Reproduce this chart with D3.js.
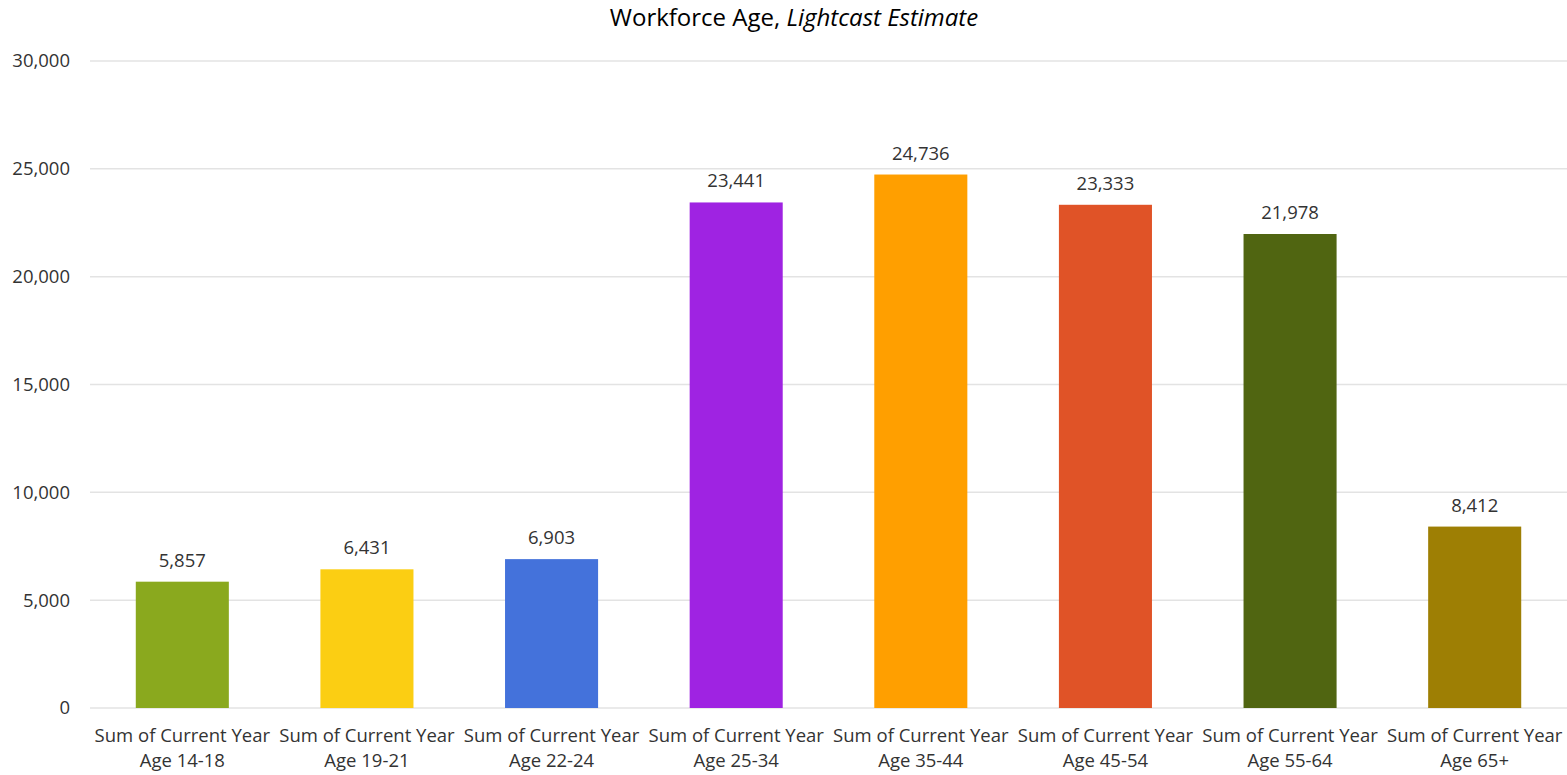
<!DOCTYPE html>
<html><head><meta charset="utf-8">
<script src="https://cdn.jsdelivr.net/npm/d3@7"></script>
<style>body{margin:0;background:#fff;} svg{display:block;font-family:"Open Sans","Liberation Sans",Arial,sans-serif;}</style>
</head><body>
<svg id="c" width="1567" height="775"></svg>
<script>
const categories = ["Age 14-18","Age 19-21","Age 22-24","Age 25-34","Age 35-44","Age 45-54","Age 55-64","Age 65+"];
const values = [5857, 6431, 6903, 23441, 24736, 23333, 21978, 8412];
const colors = ["#8aa91e","#fbce13","#4472db","#9f23e2","#ff9f00","#e05327","#506511","#9e7f04"];
const yTicks = [0,5000,10000,15000,20000,25000,30000];

const svg = d3.select("#c");
const x = d3.scaleBand().domain(categories).range([90,1567]).paddingInner(0.496).paddingOuter(0.248);
const y = d3.scaleLinear().domain([0,30000]).range([708,61]);
const fmt = d3.format(",");
const FS = 18.5;

svg.append("g").selectAll("line").data(yTicks).join("line")
  .attr("x1",90).attr("x2",1567).attr("y1",d=>y(d)).attr("y2",d=>y(d))
  .attr("stroke","#e3e3e3").attr("stroke-width",1.5);

const yAxis = d3.axisLeft(y).tickValues(yTicks).tickFormat(fmt).tickSize(0).tickPadding(0);
const ya = svg.append("g").attr("transform","translate(70,0)").call(yAxis);
ya.select(".domain").remove();
ya.selectAll("text").attr("font-size",FS).attr("fill","#333").attr("font-family","Open Sans, sans-serif");

svg.append("g").selectAll("rect").data(values).join("rect")
  .attr("x",(d,i)=>x(categories[i])).attr("width",x.bandwidth())
  .attr("y",d=>y(d)).attr("height",d=>y(0)-y(d))
  .attr("fill",(d,i)=>colors[i]);

svg.append("g").selectAll("text").data(values).join("text")
  .attr("x",(d,i)=>x(categories[i])+x.bandwidth()/2).attr("y",d=>y(d)-15)
  .attr("text-anchor","middle").attr("font-size",FS).attr("fill","#333")
  .text(d=>fmt(d));

const xAxis = d3.axisBottom(x).tickSize(0).tickPadding(0).tickFormat(()=> "");
const xa = svg.append("g").attr("transform","translate(0,708)").call(xAxis);
xa.select(".domain").remove();
xa.selectAll(".tick text").each(function(d){
  const t = d3.select(this).attr("font-size",FS).attr("fill","#333").attr("font-family","Open Sans, sans-serif").attr("y",0).attr("dy",null);
  t.append("tspan").attr("x",0).attr("y",34).text("Sum of Current Year");
  t.append("tspan").attr("x",0).attr("y",59).text(d);
});

const title = svg.append("text").attr("x",794).attr("y",26).attr("text-anchor","middle")
  .attr("font-size",24).attr("fill","#000");
title.append("tspan").text("Workforce Age, ");
title.append("tspan").attr("font-style","italic").text("Lightcast Estimate");
</script>
</body></html>
